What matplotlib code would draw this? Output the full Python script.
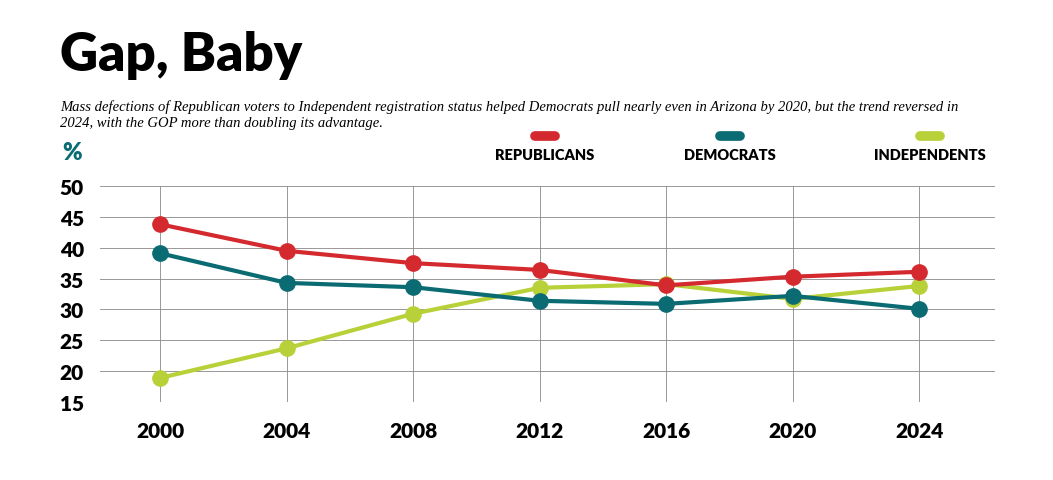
import matplotlib
matplotlib.use("Agg")
import matplotlib.pyplot as plt

years = [2000, 2004, 2008, 2012, 2016, 2020, 2024]
republicans = [43.8, 39.5, 37.5, 36.4, 33.9, 35.3, 36.1]
democrats = [39.1, 34.3, 33.6, 31.4, 30.9, 32.2, 30.1]
independents = [18.9, 23.7, 29.3, 33.5, 34.1, 31.7, 33.8]
yticks = [15, 20, 25, 30, 35, 40, 45, 50]

colors = {"REPUBLICANS": "#d42a2f", "DEMOCRATS": "#0b6b73", "INDEPENDENTS": "#b8d138"}

W, H = 1053, 481
fig = plt.figure(figsize=(W/100, H/100), dpi=100)
ax = fig.add_axes([100/W, 1-403/H, 895/W, 216/H])
ax.set_xlim(1998.1, 2026.4)
ax.set_ylim(15, 50)
ax.set_yticks(yticks)
ax.set_xticks(years)
ax.grid(True, color="#888888", linewidth=0.6)
ax.set_axisbelow(True)
for s in ax.spines.values():
    s.set_visible(False)
ax.tick_params(length=0)
ax.tick_params(axis="y", pad=12)
ax.tick_params(axis="x", pad=14)
for lbl in ax.get_yticklabels() + ax.get_xticklabels():
    lbl.set_fontsize(15); lbl.set_fontweight("heavy"); lbl.set_fontfamily("Lato")
for lbl in ax.get_yticklabels():
    lbl.set_horizontalalignment("left"); lbl.set_x(-0.045)
ax.tick_params(axis="y", pad=0)

for name, vals in [("INDEPENDENTS", independents), ("DEMOCRATS", democrats), ("REPUBLICANS", republicans)]:
    ax.plot(years, vals, color=colors[name], linewidth=3, marker="o", markersize=11, zorder=3)

fig.text(60/W, 1-55/H, "Gap, Baby", fontsize=38, fontweight="heavy", family="Lato", va="center")
fig.text(60/W, 1-115/H, "Mass defections of Republican voters to Independent registration status helped Democrats pull nearly even in Arizona by 2020, but the trend reversed in\n2024, with the GOP more than doubling its advantage.",
         fontsize=10.5, style="italic", family="Liberation Serif", va="center", linespacing=1.3)
fig.text(62/W, 1-153/H, "%", fontsize=17, fontweight="heavy", family="Lato", color="#0b6b73", va="center")

for name, xc in [("REPUBLICANS", 545), ("DEMOCRATS", 730), ("INDEPENDENTS", 930)]:
    fig.add_artist(plt.Line2D([(xc-10)/W, (xc+10)/W], [1-137/H]*2, color=colors[name], linewidth=7, solid_capstyle="round"))
    fig.text(xc/W, 1-156/H, name, fontsize=10.5, fontweight="heavy", family="Lato", ha="center", va="center")

fig.savefig("out.png", dpi=100)
